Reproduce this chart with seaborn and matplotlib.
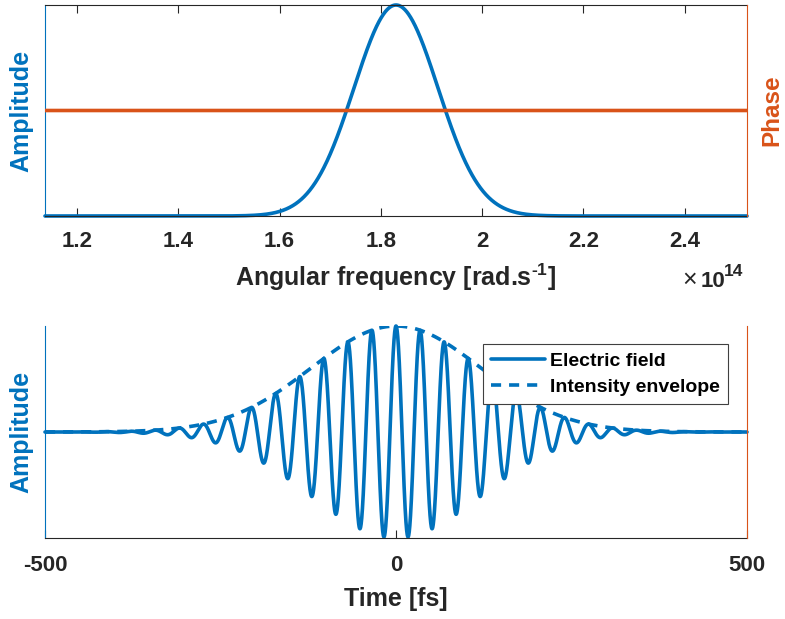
import numpy as np
import pandas as pd
import matplotlib
matplotlib.use("Agg")
import matplotlib.pyplot as plt
from matplotlib.lines import Line2D
import seaborn as sns

# ---- values ----
center_frequency = 1.83          # spectral peak, x 1e14 rad/s
spectral_sigma = 0.083           # Gaussian amplitude width, x 1e14 rad/s
spectral_phase = 0.0             # flat spectral phase
freq_range = [1.137, 2.523]      # x 1e14 rad/s
freq_ticks = [1.2, 1.4, 1.6, 1.8, 2.0, 2.2, 2.4]
freq_tick_labels = ["1.2", "1.4", "1.6", "1.8", "2", "2.2", "2.4"]
time_range = [-500, 500]         # fs
time_ticks = [-500, 0, 500]
time_tick_labels = ["-500", "0", "500"]
series_labels = ["Electric field", "Intensity envelope"]

BLUE = "#0072BD"
ORANGE = "#D95319"
DARK = "#262626"

sns.set_style("white")
plt.rcParams["font.family"] = ["Liberation Sans", "DejaVu Sans"]
plt.rcParams["font.weight"] = "bold"
plt.rcParams["mathtext.fontset"] = "custom"
plt.rcParams["mathtext.rm"] = "Liberation Sans:bold"
plt.rcParams["mathtext.bf"] = "Liberation Sans:bold"
plt.rcParams["axes.linewidth"] = 0.8

# ---- pulse built from the parameters ----
freq = np.linspace(freq_range[0], freq_range[1], 2000)
spec = pd.DataFrame({
    "freq": freq,
    "amp": np.exp(-(freq - center_frequency) ** 2 / (2 * spectral_sigma ** 2)),
    "phase": np.full_like(freq, spectral_phase),
})
t = np.linspace(time_range[0], time_range[1], 6001)
omega0 = center_frequency * 0.1            # rad/fs
sigma_t = 10.0 / spectral_sigma            # fs
env = np.exp(-t ** 2 / (2 * sigma_t ** 2))
temporal = pd.DataFrame({"t": t, "field": env * np.cos(omega0 * t + spectral_phase), "env": env})

W, H = 785, 619
fig = plt.figure(figsize=(W / 100, H / 100), dpi=100)
ax1 = fig.add_axes([45 / W, 1 - 216 / H, 702 / W, 211 / H])
ax2 = fig.add_axes([45 / W, 1 - 538 / H, 702 / W, 212 / H])

LW = 2.6
DASH = (2.8, 2.2)

# ---- top panel ----
sns.lineplot(data=spec, x="freq", y="amp", ax=ax1, color=BLUE, lw=LW, clip_on=False)
ax1r = ax1.twinx()
sns.lineplot(data=spec, x="freq", y="phase", ax=ax1r, color=ORANGE, lw=LW)
ax1.set_xlim(freq_range)
ax1.set_ylim(0, 1)
ax1r.set_ylim(-1, 1)
ax1.set_xticks(freq_ticks)
ax1.set_xticklabels(freq_tick_labels)
ax1.set_yticks([])
ax1r.set_yticks([])
ax1.tick_params(axis="x", direction="in", top=True, bottom=True, length=6, width=0.8,
                color=DARK, labelsize=16, labelcolor=DARK, pad=11)
for s in ["top", "bottom"]:
    ax1.spines[s].set_color(DARK)
ax1.spines["left"].set_color(BLUE)
ax1.spines["right"].set_visible(False)
for s in ["left", "top", "bottom"]:
    ax1r.spines[s].set_visible(False)
ax1r.spines["right"].set_color(ORANGE)
ax1.set_xlabel(r"Angular frequency [rad.s$^{\text{-1}}$]", fontsize=18, fontweight="bold", color=DARK)
ax1.xaxis.set_label_coords(0.5, -0.215)
ax1.set_ylabel("Amplitude", fontsize=18, fontweight="bold", color=BLUE)
ax1.yaxis.set_label_coords(-0.016, 0.5)
ax1r.set_ylabel("Phase", fontsize=17.5, fontweight="bold", color=ORANGE)
ax1r.yaxis.set_label_coords(1.019, 0.5)

fig.text(690 / W, 1 - 280 / H, "×", fontsize=18, fontweight="normal", color=DARK, ha="center", va="center")
fig.text(701 / W, 1 - 287 / H, "10", fontsize=16, fontweight="bold", color=DARK, ha="left", va="baseline")
fig.text(724 / W, 1 - 276 / H, "14", fontsize=12.5, fontweight="bold", color=DARK, ha="left", va="baseline")

# ---- bottom panel ----
sns.lineplot(data=temporal, x="t", y="field", ax=ax2, color=BLUE, lw=LW, clip_on=False)
sns.lineplot(data=temporal, x="t", y="env", ax=ax2, color=BLUE, lw=LW)
ax2.lines[-1].set_dashes(DASH)
ax2r = ax2.twinx()
ax2.set_xlim(time_range)
ax2.set_ylim(-1, 1)
ax2r.set_ylim(-1, 1)
ax2.set_xticks(time_ticks)
ax2.set_xticklabels(time_tick_labels)
ax2.set_yticks([0])
ax2.set_yticklabels([])
ax2r.set_yticks([])
ax2.tick_params(axis="x", direction="in", top=False, bottom=True, length=6, width=0.8,
                color=DARK, labelsize=16, labelcolor=DARK, pad=12)
ax2.tick_params(axis="y", direction="in", length=6, width=0.8, color=BLUE)
ax2.spines["bottom"].set_color(DARK)
ax2.spines["top"].set_visible(False)
ax2.spines["left"].set_color(BLUE)
ax2.spines["right"].set_visible(False)
for s in ["left", "top", "bottom"]:
    ax2r.spines[s].set_visible(False)
ax2r.spines["right"].set_color(ORANGE)
ax2.set_xlabel("Time [fs]", fontsize=18, fontweight="bold", color=DARK)
ax2.xaxis.set_label_coords(0.5, -0.23)
ax2.set_ylabel("Amplitude", fontsize=18, fontweight="bold", color=BLUE)
ax2.yaxis.set_label_coords(-0.016, 0.5)

handles = [Line2D([], [], color=BLUE, lw=LW),
           Line2D([], [], color=BLUE, lw=LW, dashes=DASH)]
leg = ax2r.legend(handles, series_labels, loc="upper left",
                  bbox_to_anchor=(483 / W, 1 - 344 / H), bbox_transform=fig.transFigure,
                  borderaxespad=0, fancybox=False, frameon=True, framealpha=1,
                  edgecolor="#404040", prop={"size": 14, "weight": "bold"},
                  handlelength=2.75, handletextpad=0.27, labelspacing=0.45, borderpad=0.42)
leg.get_frame().set_linewidth(0.8)
for txt in leg.get_texts():
    txt.set_color("black")

fig.savefig("out.png", dpi=100)
